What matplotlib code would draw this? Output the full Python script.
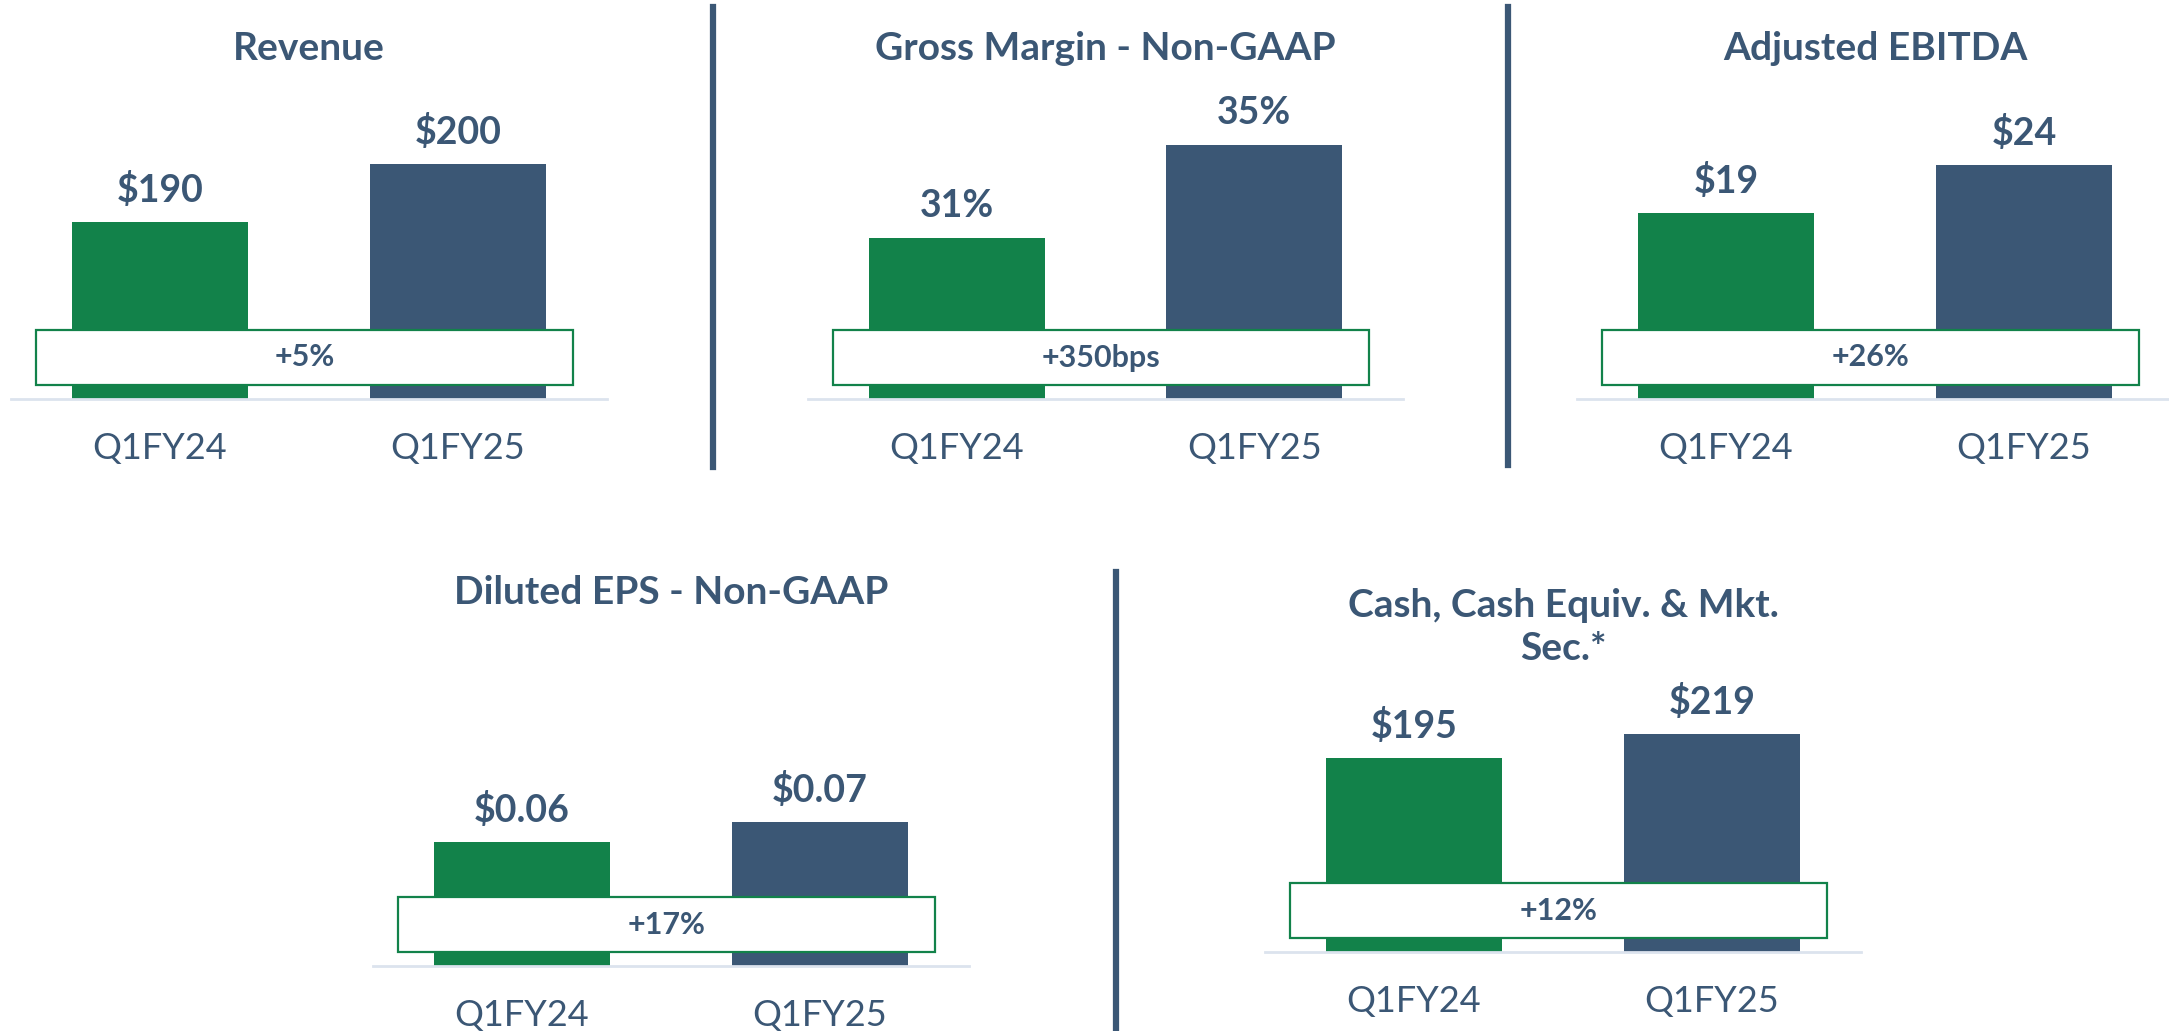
import matplotlib.pyplot as plt
from matplotlib.patches import Rectangle

periods = ["Q1FY24", "Q1FY25"]
revenue = [190, 200]
gross_margin = [31.2, 34.7]
adj_ebitda = [19.0, 23.9]
eps = [0.06, 0.07]
cash = [195, 219]

titles = ["Revenue", "Gross Margin - Non-GAAP", "Adjusted EBITDA",
          "Diluted EPS - Non-GAAP", "Cash, Cash Equiv. & Mkt.\nSec.*"]
growth = ["+5%", "+350bps", "+26%", "+17%", "+12%"]
formats = ["${:.0f}", "{:.0f}%", "${:.0f}", "${:.2f}", "${:.0f}"]
ylims = [(159.5, 211.2), (25.2, 36.4), (0, 30.6), (0, 0.1456), (0, 301)]

GREEN = "#12824A"
BLUE = "#3B5775"
LINE = "#DCE3EE"

plt.rcParams["font.family"] = ["Lato", "DejaVu Sans"]

W, H = 2169, 1031
fig = plt.figure(figsize=(W / 100, H / 100), dpi=100)


def px_axes(x0, x1, ybot, ytop):
    return fig.add_axes([x0 / W, 1 - ybot / H, (x1 - x0) / W, (ybot - ytop) / H])


# panel boxes in pixels: left, right, baseline, top
boxes = [(11, 607, 399, 99), (808, 1403, 399, 99), (1577, 2173, 399, 99),
         (373, 969, 966, 666), (1265, 1861, 952, 652)]
series = [revenue, gross_margin, adj_ebitda, eps, cash]
title_y = [49, 49, 49, 592, 627]

for i, vals in enumerate(series):
    x0, x1, yb, yt = boxes[i]
    ax = px_axes(x0, x1, yb, yt)
    ax.bar([0, 1], vals, width=0.59, color=[GREEN, BLUE], zorder=2)
    ax.set_xlim(-0.5, 1.5)
    ax.set_ylim(*ylims[i])
    for s in ["top", "left", "right"]:
        ax.spines[s].set_visible(False)
    ax.spines["bottom"].set_color(LINE)
    ax.spines["bottom"].set_linewidth(2)
    ax.set_yticks([])
    ax.set_xticks([0, 1], periods)
    ax.tick_params(axis="x", length=0, pad=24, labelsize=26,
                   labelcolor=BLUE)
    for x, v in zip([0, 1], vals):
        ax.annotate(formats[i].format(v), (x, v), xytext=(0, 23),
                    textcoords="offset points", ha="center", va="center",
                    fontsize=27, fontweight="bold", color=BLUE)
    # growth callout box
    tr = ax.get_xaxis_transform()
    ax.add_patch(Rectangle((-0.415, 14 / 300), 1.8, 55 / 300, transform=tr,
                           facecolor="white", edgecolor=GREEN, linewidth=1.6,
                           zorder=3, clip_on=False))
    ax.text(0.485, (14 + 27.5) / 300, growth[i], transform=tr, ha="center",
            va="center", fontsize=22, fontweight="bold", color=BLUE, zorder=4)
    fig.text((x0 + x1) / 2 / W, 1 - title_y[i] / H, titles[i],
             ha="center", va="center", fontsize=28, fontweight="bold",
             color=BLUE, linespacing=1.3)

# divider lines
for xd, y0, y1 in [(713, 7, 467), (1508, 7, 465), (1116, 572, 1031)]:
    fig.add_artist(plt.Line2D([xd / W, xd / W], [1 - y0 / H, 1 - y1 / H],
                              color=BLUE, linewidth=4.5,
                              transform=fig.transFigure))

fig.savefig("out.png", dpi=100)
